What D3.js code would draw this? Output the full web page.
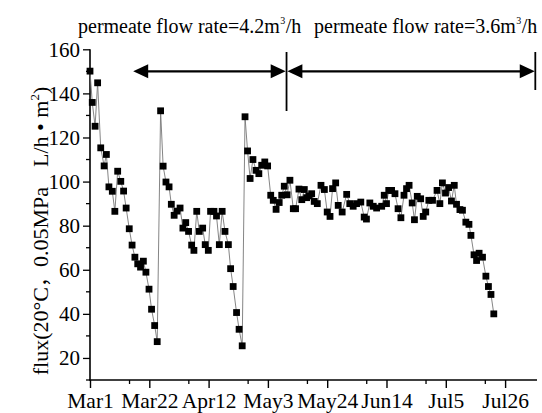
<!DOCTYPE html>
<html>
<head>
<meta charset="utf-8">
<script src="https://cdn.jsdelivr.net/npm/d3@7"></script>
<style>
  html, body { margin: 0; padding: 0; background: #fff; }
  svg { display: block; }
  text { font-family: "Liberation Serif", "Times New Roman", serif; fill: #000; }
</style>
</head>
<body>
<svg id="chart" width="542" height="413"></svg>
<script>
// ---- data (days after Mar 1, flux value) ----
const days = [0.0,0.8,1.8,2.7,3.8,5.0,5.8,6.7,7.9,8.8,9.8,10.9,11.9,12.8,13.9,14.9,15.9,16.9,17.9,18.9,19.8,20.9,21.8,22.9,23.8,
  25.0,25.9,26.9,28.0,28.8,29.8,30.8,31.9,32.9,33.9,34.9,36.0,36.8,37.8,38.7,39.9,40.8,41.9,42.7,43.9,44.8,45.8,46.8,47.8,49.0,49.8,50.7,51.9,52.8,53.9,
  54.9,55.8,56.7,57.7,58.8,59.8,60.8,61.9,62.9,64.0,64.9,65.9,67.0,67.9,68.8,69.8,70.8,72.0,72.8,74.0,75.0,75.9,76.7,77.6,78.5,79.4,80.5,81.8,83.0,84.0,85.0,85.9,87.0,87.9,89.3,
  90.9,92.0,93.2,94.4,95.9,97.1,97.9,99.1,100.3,101.5,103.3,104.2,105.0,105.8,106.8,108.0,109.1,110.1,111.2,112.1,113.0,114.1,114.9,115.9,117.1,118.0,118.9,120.0,121.3,
  122.9,123.9,124.8,125.9,127.0,128.0,129.0,129.8,131.0,131.9,133.1,134.2,134.9,136.0,136.9,137.8,139.0,140.2,141.1,142.0,143.0];
const flux = [150.1,135.9,125.1,144.8,115.3,107.1,112.3,97.6,95.6,86.5,104.7,100.1,95.7,88.0,78.6,71.2,65.7,62.7,61.2,63.9,58.9,51.2,42.1,34.7,27.4,
  132.1,107.0,99.8,97.6,89.7,84.7,86.6,88.0,78.9,81.4,77.4,71.2,68.8,86.5,77.4,78.9,71.4,68.8,86.5,86.5,84.4,71.4,86.5,77.4,71.4,60.5,52.4,40.6,33.0,25.5,
  129.4,113.9,101.4,110.0,105.1,103.6,107.4,108.9,107.1,93.8,91.5,87.4,90.5,93.8,97.9,94.0,100.6,87.7,87.7,96.6,91.8,96.4,92.7,93.5,94.5,91.0,90.0,98.3,96.4,86.2,84.2,96.8,99.4,89.2,86.2,
  94.2,90.0,88.8,90.0,90.7,83.9,83.0,90.3,88.8,88.0,88.8,93.8,90.0,96.0,96.0,94.5,87.7,83.6,93.8,96.8,98.3,90.3,82.7,93.3,92.2,84.2,86.2,91.5,91.5,
  96.0,90.0,99.4,94.8,97.3,91.2,98.3,89.7,87.3,87.0,81.6,80.6,75.6,66.8,64.2,67.5,65.7,57.1,52.4,48.8,40.0];

const xTickDays = [0, 21, 42, 63, 84, 105, 126, 147];
const xTickLabels = ["Mar1", "Mar22", "Apr12", "May3", "May24", "Jun14", "Jul5", "Jul26"];
const xMinorDays = [14, 35, 56, 77, 98, 119, 140];
const yTicks = [20, 40, 60, 80, 100, 120, 140, 160];
const yMinor = [10, 30, 50, 70, 90, 110, 130, 150];

// flow periods (annotation)
const periodStart = [15.3, 69.9];
const periodEnd = [69.3, 157.5];
const periodRate = ["4.2", "3.6"];
const dividerDays = [69.6, 157.7];

// ---- layout ----
const svg = d3.select("#chart");
const x = d3.scaleLinear().domain([0, 158.3]).range([90, 537]);
const y = d3.scaleLinear().domain([10, 160]).range([380, 49.3]);

// axes
const xAxis = d3.axisBottom(x).tickValues(xTickDays).tickSize(8).tickFormat((d, i) => xTickLabels[i]);
const gx = svg.append("g").attr("transform", `translate(0,${y(10)})`).call(xAxis);
gx.select(".domain").attr("stroke", "#000").attr("stroke-width", 1.6).attr("d", `M${x(0) - 1},0H${x.range()[1]}`);
gx.selectAll(".tick line").attr("stroke", "#000").attr("stroke-width", 1.4);
gx.selectAll(".tick text").attr("font-size", 21.5).attr("font-family", "Liberation Serif").attr("dy", null).attr("y", 28);
svg.append("g").attr("transform", `translate(0,${y(10)})`)
  .selectAll("line").data(xMinorDays).join("line")
  .attr("x1", d => x(d)).attr("x2", d => x(d)).attr("y1", 0).attr("y2", 4)
  .attr("stroke", "#000").attr("stroke-width", 1.3);

const yAxis = d3.axisLeft(y).tickValues(yTicks).tickSize(7).tickPadding(3);
const gy = svg.append("g").attr("transform", `translate(${x(0)},0)`).call(yAxis);
gy.select(".domain").attr("stroke", "#000").attr("stroke-width", 1.6).attr("d", `M0,${y(160)}V${y(10)}`);
gy.selectAll(".tick line").attr("stroke", "#000").attr("stroke-width", 1.3);
gy.selectAll(".tick text").attr("font-size", 21).attr("font-family", "Liberation Serif").attr("dy", "0.33em");
svg.append("g").attr("transform", `translate(${x(0)},0)`)
  .selectAll("line").data(yMinor).join("line")
  .attr("x1", -4).attr("x2", 0).attr("y1", d => y(d)).attr("y2", d => y(d))
  .attr("stroke", "#000").attr("stroke-width", 1.3);

// y label
const yl = svg.append("text")
  .attr("transform", `translate(48,231) rotate(-90)`)
  .attr("text-anchor", "middle").attr("font-size", 22)
  .style("white-space", "pre");
yl.append("tspan").text("flux(20°C");
yl.append("tspan").attr("font-family", "Noto Sans CJK SC").attr("font-size", 20).text("，");
yl.append("tspan").text("0.05MPa");
yl.append("tspan").attr("font-family", "Noto Sans CJK SC").attr("font-size", 20).text("　");
yl.append("tspan").text("L/h • m");
yl.append("tspan").attr("font-size", 13).attr("dy", -9).text("2");
yl.append("tspan").attr("dy", 9).text(")");

// data line + squares
const pts = days.map((d, i) => [d, flux[i]]);
svg.append("path").datum(pts)
  .attr("fill", "none").attr("stroke", "#777").attr("stroke-width", 0.9)
  .attr("d", d3.line().x(d => x(d[0])).y(d => y(d[1])));
const S = 6.8;
svg.append("g").selectAll("rect").data(pts).join("rect")
  .attr("x", d => x(d[0]) - S / 2).attr("y", d => y(d[1]) - S / 2)
  .attr("width", S).attr("height", S).attr("fill", "#000");

// annotations
const arrowY = y(150);
function arrowHead(tipX, dir) {
  const L = 15, H = 7;
  svg.append("path")
    .attr("d", `M${tipX},${arrowY}L${tipX - dir * L},${arrowY - H}L${tipX - dir * L},${arrowY + H}Z`)
    .attr("fill", "#000");
}
periodStart.forEach((s, i) => {
  const x0 = x(s), x1 = x(periodEnd[i]);
  svg.append("line").attr("x1", x0 + 5).attr("x2", x1 - 5).attr("y1", arrowY).attr("y2", arrowY)
    .attr("stroke", "#000").attr("stroke-width", 2.2);
  arrowHead(x0, -1);
  arrowHead(x1, 1);
});
svg.append("line").attr("x1", x(dividerDays[0])).attr("x2", x(dividerDays[0]))
  .attr("y1", 52).attr("y2", 111).attr("stroke", "#000").attr("stroke-width", 1.8);
svg.append("line").attr("x1", x(dividerDays[1])).attr("x2", x(dividerDays[1]))
  .attr("y1", 52).attr("y2", 90).attr("stroke", "#000").attr("stroke-width", 1.8);

const labelX = [78, 314];
periodRate.forEach((r, i) => {
  const base = svg.append("text").attr("x", labelX[i]).attr("y", 33).attr("font-size", 20)
    .text(`permeate flow rate=${r}m`);
  let cx = labelX[i] + base.node().getComputedTextLength() + 0.5;
  const sup = svg.append("text").attr("x", cx).attr("y", 24).attr("font-size", 10).text("3");
  cx += sup.node().getComputedTextLength() + 0.5;
  svg.append("text").attr("x", cx).attr("y", 33).attr("font-size", 20).text("/h");
});
</script>
</body>
</html>
